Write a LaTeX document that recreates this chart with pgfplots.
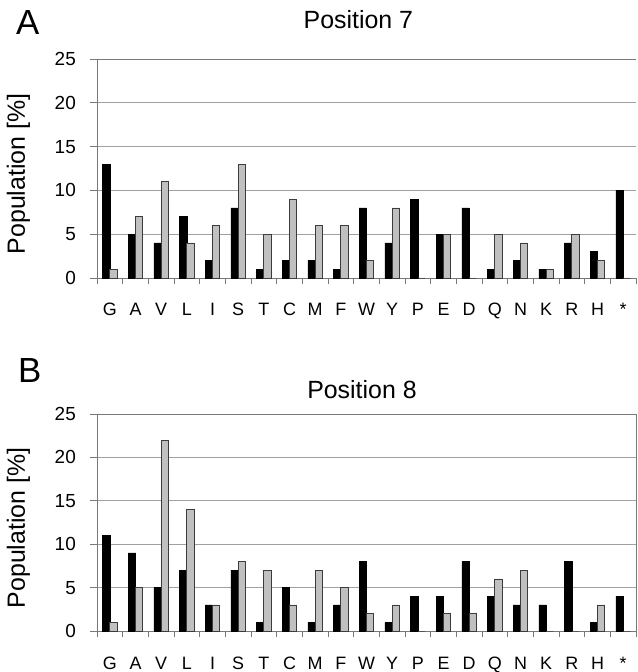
\documentclass[border=0pt]{standalone}
\usepackage{pgfplots}
\pgfplotsset{compat=1.18}
\usepackage{fontspec}
\setmainfont{Liberation Sans}
\definecolor{gridgray}{RGB}{160,160,160}
\definecolor{axisgray}{RGB}{120,120,120}
\definecolor{bargray}{RGB}{192,192,192}
\definecolor{baredge}{RGB}{60,60,60}

\pgfplotstableread{
x black gray
0 13 1
1 5 7
2 4 11
3 7 4
4 2 6
5 8 13
6 1 5
7 2 9
8 2 6
9 1 6
10 8 2
11 4 8
12 9 0
13 5 5
14 8 0
15 1 5
16 2 4
17 1 1
18 4 5
19 3 2
20 10 0
}\posseven

\pgfplotstableread{
x black gray
0 11 1
1 9 5
2 5 22
3 7 14
4 3 3
5 7 8
6 1 7
7 5 3
8 1 7
9 3 5
10 8 2
11 1 3
12 4 0
13 4 2
14 8 2
15 4 6
16 3 7
17 3 0
18 8 0
19 1 3
20 4 0
}\poseight

\pgfplotsset{
  panel/.style={
    scale only axis, width=539bp,
    anchor=south west,
    xmin=-0.5, xmax=20.5, ymin=0, ymax=25,
    ytick={0,5,...,25},
    xtick={0,...,20},
    xticklabels={G,A,V,L,I,S,T,C,M,F,W,Y,P,E,D,Q,N,K,R,H,*},
    minor xtick={-0.5,0.5,...,20.5},
    tick align=outside,
    major tick length=7bp, minor tick length=6bp,
    every major x tick/.append style={draw=none},
    xtick pos=bottom, ytick pos=left,
    ymajorgrids,
    grid style={color=gridgray, line width=0.8bp},
    axis line style={color=axisgray, line width=0.9bp},
    every tick/.append style={color=axisgray, line width=0.8bp},
    /pgf/number format/assume math mode=true,
    yticklabel style={font=\fontsize{19}{19}\selectfont, anchor=east, inner sep=0pt, xshift=-14bp},
    xticklabel style={font=\fontsize{18}{18}\selectfont, anchor=base, inner sep=0pt, yshift=-31bp},
    ylabel={Population [\%]},
    ylabel style={font=\fontsize{25}{25}\selectfont, at={(axis description cs:-0.1336,0.475)}, anchor=base},
    title style={font=\fontsize{25}{25}\selectfont, anchor=base},
    ybar=0pt, bar width=7.3bp,
    clip=false,
  },
  blackbar/.style={fill=black, draw=black, line width=0.6bp},
  graybar/.style={fill=bargray, draw=baredge, line width=0.8bp},
}

\begin{document}
\begin{tikzpicture}
\useasboundingbox (0bp,0bp) rectangle (638bp,672bp);
\node[anchor=base west, inner sep=0pt, font=\fontsize{35}{35}\selectfont] at (16bp,637bp) {A};
\node[anchor=base west, inner sep=0pt, font=\fontsize{35}{35}\selectfont] at (18bp,289bp) {B};

\begin{axis}[panel, at={(97bp,394bp)}, height=219bp,
  axis x line*=box, axis y line*=left,
  title={Position 7},
  title style={at={(axis description cs:0.485,1)}, yshift=25bp}]
\addplot[blackbar] table[x=x, y=black] {\posseven};
\addplot[graybar] table[x=x, y=gray] {\posseven};
\end{axis}

\begin{axis}[panel, at={(97bp,41bp)}, height=217bp,
  axis x line*=box, axis y line*=box,
  title={Position 8},
  title style={at={(axis description cs:0.4916,1)}, yshift=10bp}]
\addplot[blackbar] table[x=x, y=black] {\poseight};
\addplot[graybar] table[x=x, y=gray] {\poseight};
\end{axis}
\end{tikzpicture}
\end{document}
